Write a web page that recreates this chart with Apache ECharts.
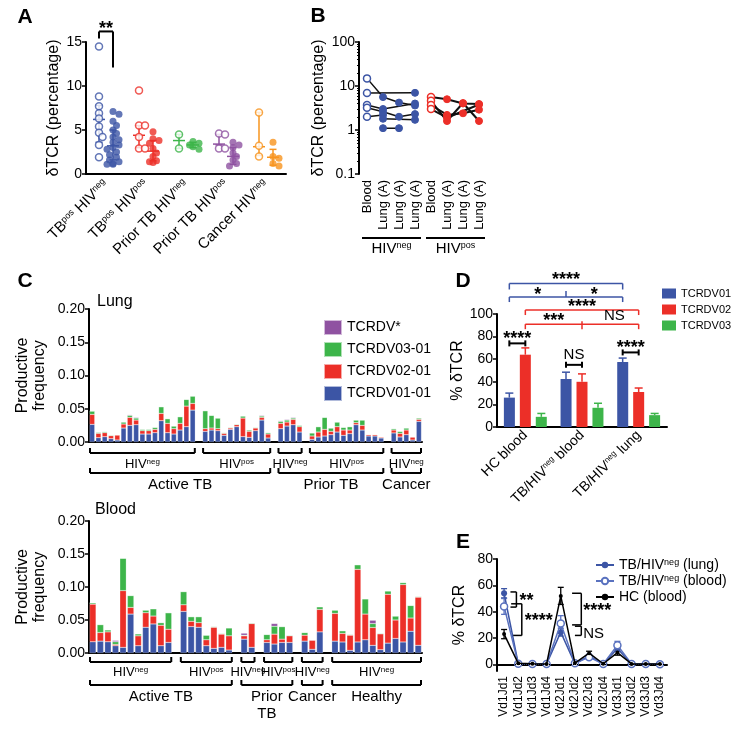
<!DOCTYPE html>
<html><head><meta charset="utf-8">
<script src="https://cdn.jsdelivr.net/npm/echarts@6/dist/echarts.min.js"></script>
<style>html,body{margin:0;padding:0;background:#fff}#c{width:744px;height:737px}</style>
</head><body><div id="c"></div>
<script>
const FONT = '"Liberation Sans", Arial, Helvetica, sans-serif';
const BLUE = '#3c55a5', RED = '#ec2f28', GREEN = '#3db54a', PURPLE = '#8f52a1', ORANGE = '#f7941e';

// ---------- Panel A ----------
const aCategories = ['TB{s|pos} HIV{s|neg}', 'TB{s|pos} HIV{s|pos}', 'Prior TB HIV{s|neg}', 'Prior TB HIV{s|pos}', 'Cancer HIV{s|neg}'];
const aColors = [BLUE, RED, GREEN, PURPLE, ORANGE];
const aOpenValues = [
  [14.5, 8.8, 7.7, 6.9, 6.3, 5.4, 4.7, 4.2, 3.3, 1.9],
  [9.5, 5.5, 5.5, 4.2, 2.9, 2.9],
  [4.5, 2.9],
  [4.6, 4.5, 2.9, 2.9],
  [7.0, 3.2, 2.0]
];
const aFilledValues = [
  [7.1, 6.8, 6.0, 5.5, 5.0, 4.6, 4.2, 3.9, 3.6, 3.3, 3.0, 2.8, 2.5, 2.2, 1.9, 1.6, 1.4, 1.2, 1.1, 1.1],
  [4.8, 4.0, 3.8, 3.5, 2.9, 2.4, 2.0, 1.5, 1.4, 1.3],
  [3.7, 3.5, 3.3, 3.1, 2.8],
  [3.6, 3.3, 3.0, 2.4, 2.0, 1.6, 1.2, 0.9],
  [3.6, 2.0, 1.8, 1.2, 0.9]
];
const aOpenStats = [[3.6, 6.2, 7.8], [3.0, 4.4, 5.5], [2.9, 3.8, 4.5], [3.3, 3.4, 4.5], [2.1, 3.1, 7.0]];
const aFilledStats = [[1.6, 3.2, 5.0], [1.5, 2.6, 3.8], [3.0, 3.3, 3.6], [1.1, 2.0, 3.0], [1.0, 1.9, 2.8]];

// ---------- Panel B ----------
const bCategories = ['Blood', 'Lung (A)', 'Lung (A)', 'Lung (A)', 'Blood', 'Lung (A)', 'Lung (A)', 'Lung (A)'];
const bNegPatients = [
  [14.9, 5.6, 4.2, 3.6],
  [6.9, null, null, 7.0],
  [3.7, 3.0, null, 4.0],
  [3.2, 2.6, 2.0, 2.3],
  [2.0, 2.2, null, null],
  [null, 1.8, null, 1.7],
  [null, 1.1, 1.1, null]
];
const bPosPatients = [
  [5.6, 5.0, 4.0, 3.9],
  [4.6, 1.6, 4.1, 1.6],
  [3.7, 2.2, 2.4, 2.9],
  [3.0, 1.9, null, 3.8]
];
const bGroupLabels = ['HIV{s|neg}', 'HIV{s|pos}'];

// ---------- Panel C ----------
const cSeriesNames = ['TCRDV01-01', 'TCRDV02-01', 'TCRDV03-01', 'TCRDV*'];
const lungSubSizes = [17, 11, 4, 12, 5];
const lungSubLabels = ['HIV{s|neg}', 'HIV{s|pos}', 'HIV{s|neg}', 'HIV{s|pos}', 'HIV{s|neg}'];
const lungTopLabels = ['Active TB', 'Prior TB', 'Cancer'];
const lungTopSpans = [[0, 1], [2, 3], [4, 4]];
const lungBlue = [0.0265,0.0065,0.008,0.005,0.003,0.021,0.025,0.026,0.012,0.012,0.014,0.032,0.014,0.012,0.018,0.023,0.048,
  0.016,0.018,0.017,0.010,0.019,0.023,0.008,0.007,0.017,0.033,0.006,
  0.020,0.024,0.026,0.015,
  0.004,0.0075,0.009,0.011,0.015,0.010,0.0126,0.026,0.018,0.009,0.009,0.006,
  0.0136,0.0076,0.011,0.003,0.031];
const lungRed = [0.015,0.0065,0.006,0.0045,0.0075,0.006,0.012,0.007,0.005,0.005,0.005,0.011,0.014,0.008,0.010,0.031,0.010,
  0.004,0.003,0.003,0.003,0.002,0.003,0.028,0.009,0.004,0.004,0.006,
  0.008,0.006,0.008,0.008,
  0.005,0.0075,0.010,0.005,0.008,0.008,0.0054,0.003,0.007,0.002,0.002,0.0016,
  0.0044,0.0054,0.007,0.0046,0.003];
const lungGreen = [0.005,0.0015,0.0015,0.001,0.0005,0.003,0.003,0.003,0.002,0.002,0.003,0.010,0.007,0.004,0.010,0.010,0.011,
  0.027,0.019,0.016,0.001,0.001,0.001,0.003,0.002,0.001,0.002,0.002,
  0.003,0.003,0.002,0.002,
  0.0046,0.008,0.018,0.005,0.007,0.004,0.005,0.004,0.008,0.0006,0.0006,0,
  0.002,0.003,0.003,0,0.002];
const lungPurple = [0,0,0,0,0,0,0.001,0.001,0,0,0,0,0,0,0,0,0,
  0,0,0,0,0,0,0,0,0,0.001,0,
  0.001,0.001,0.001,0,
  0,0,0,0,0,0,0,0,0,0,0,0,
  0,0,0,0,0];

const bloodSubSizes = [11, 7, 2, 4, 3, 12];
const bloodSubLabels = ['HIV{s|neg}', 'HIV{s|pos}', 'HIV{s|neg}', 'HIV{s|pos}', 'HIV{s|neg}', 'HIV{s|neg}'];
const bloodTopLabels = ['Active TB', 'Prior\nTB', 'Cancer', 'Healthy'];
const bloodTopSpans = [[0, 1], [2, 3], [4, 4], [5, 5]];
const bloodBlue = [0.017,0.018,0.017,0.011,0.0085,0.059,0.011,0.039,0.044,0.011,0.016,
  0.063,0.040,0.039,0.011,0.007,0.0086,0.0045,
  0.021,0.0086,
  0.016,0.0136,0.016,0.016,
  0.018,0.0056,0.032,
  0.018,0.0167,0.004,0.0167,0.020,0.0116,0.005,0.015,0.022,0.0167,0.033,0.0116];
const bloodRed = [0.057,0.013,0.015,0.002,0.086,0.010,0.015,0.022,0.012,0.031,0.020,
  0.010,0.008,0.007,0.009,0.032,0.020,0.0215,
  0.005,0.036,
  0.004,0.015,0.005,0.010,
  0.009,0.014,0.034,
  0.042,0.013,0.023,0.110,0.039,0.027,0.024,0.074,0.028,0.087,0.020,0.073];
const bloodGreen = [0.002,0.012,0.003,0.004,0.049,0.018,0.003,0.004,0.011,0.004,0.025,
  0.020,0.007,0.009,0.007,0.001,0.001,0.012,
  0.001,0.001,
  0.008,0.012,0.019,0.001,
  0.004,0,0.004,
  0.005,0.004,0.001,0.007,0.023,0.006,0.001,0.005,0.006,0.003,0.019,0.001];
const bloodPurple = [0,0,0,0.002,0,0,0,0,0,0,0,
  0,0,0,0,0,0,0,
  0.003,0,
  0,0.004,0,0,
  0,0,0,
  0,0,0,0,0,0.005,0,0,0,0,0,0];

// ---------- Panel D ----------
const dCategories = ['HC blood', 'TB/HIV{s|neg} blood', 'TB/HIV{s|neg} lung'];
const dNames = ['TCRDV01', 'TCRDV02', 'TCRDV03'];
const dV01 = [26, 42.5, 57.5];
const dV02 = [64, 40, 31];
const dV03 = [9, 17, 10.5];
const dErr01 = [4, 6, 3.5];
const dErr02 = [6, 7, 3.5];
const dErr03 = [3, 4, 1.5];

// ---------- Panel E ----------
const eCategories = ['Vd1Jd1','Vd1Jd2','Vd1Jd3','Vd1Jd4','Vd2Jd1','Vd2Jd2','Vd2Jd3','Vd2Jd4','Vd3Jd1','Vd3Jd2','Vd3Jd3','Vd3Jd4'];
const eNames = ['TB/HIVneg (lung)', 'TB/HIVneg (blood)', 'HC (blood)'];
const eLung = [54, 0.5, 0.5, 0.3, 24.5, 0.5, 6.5, 0.3, 12, 0.3, 0.3, 0.2];
const eLungErr = [3.5, 0.2, 0.2, 0.1, 3, 0.2, 1, 0.1, 2, 0.1, 0.1, 0.1];
const eBlood = [44, 0.5, 0.4, 0.3, 31, 0.8, 5.5, 0.3, 14.5, 0.4, 0.3, 0.2];
const eBloodErr = [6, 0.3, 0.2, 0.1, 6, 0.3, 1, 0.1, 3, 0.1, 0.1, 0.1];
const eHC = [23, 0.8, 0.5, 0.3, 52, 1, 8.5, 0.5, 9, 0.4, 0.3, 0.3];
const eHCErr = [3.5, 0.3, 0.2, 0.1, 6.5, 0.3, 1.5, 0.1, 2, 0.1, 0.1, 0.1];

// ================= build =================
const chart = echarts.init(document.getElementById('c'));
const supRich = (fs) => ({ s: { fontSize: fs, verticalAlign: 'top', fontFamily: FONT, color: '#000' } });
const axLine = { lineStyle: { color: '#000', width: 2 } };
const axTick = { length: 4, lineStyle: { color: '#000', width: 1.5 } };
const yLab = { color: '#000', fontSize: 14, fontFamily: FONT, margin: 4 };

// A: beeswarm offsets (pixel layout helper)
const A_PX_PER_UNIT = 132 / 15, A_SIDE = 7;
function swarm(values) {
  const placed = [];
  return values.map(v => {
    const py = v * A_PX_PER_UNIT;
    let chosen = 0;
    for (const dx of [0, 3.5, -3.5, 6, -6]) {
      if (placed.every(p => Math.hypot(p.dx - dx, p.py - py) >= 4.5)) { chosen = dx; break; }
    }
    placed.push({ dx: chosen, py });
    return chosen;
  });
}
const aOpenData = [], aFilledData = [], aStatData = [];
aOpenValues.forEach((vals, g) => {
  const offs = swarm(vals);
  vals.forEach((v, i) => aOpenData.push({ value: [g, v], symbolOffset: [-A_SIDE + offs[i], 0],
    itemStyle: { color: '#fff', borderColor: aColors[g], borderWidth: 1.5 } }));
  aStatData.push([g, ...aOpenStats[g], -1]);
});
aFilledValues.forEach((vals, g) => {
  const offs = swarm(vals);
  vals.forEach((v, i) => aFilledData.push({ value: [g, v], symbolOffset: [A_SIDE + offs[i], 0],
    itemStyle: { color: aColors[g] } }));
  aStatData.push([g, ...aFilledStats[g], 1]);
});

// C: slots with gaps
function buildSlots(sizes, arr) {
  const out = [], starts = [];
  let k = 0;
  sizes.forEach((n, gi) => {
    starts.push(out.length);
    for (let i = 0; i < n; i++) out.push(arr[k++]);
    if (gi < sizes.length - 1) out.push(null);
  });
  return { out, starts };
}
const lungSlots = buildSlots(lungSubSizes, lungBlue);
const bloodSlots = buildSlots(bloodSubSizes, bloodBlue);
const lungCats = lungSlots.out.map((_, i) => 'l' + i);
const bloodCats = bloodSlots.out.map((_, i) => 'b' + i);
const cColors = [BLUE, RED, GREEN, PURPLE];
const lungArrays = [lungBlue, lungRed, lungGreen, lungPurple];
const bloodArrays = [bloodBlue, bloodRed, bloodGreen, bloodPurple];

const series = [];
// A
series.push({ type: 'custom', xAxisIndex: 0, yAxisIndex: 0, data: aStatData, encode: { x: 0, y: 2 }, z: 1,
  renderItem: (p, api) => {
    const g = api.value(0), side = api.value(4);
    const c = aColors[g];
    const x = api.coord([g, api.value(2)])[0] + side * A_SIDE;
    const yl = api.coord([g, api.value(1)])[1], ym = api.coord([g, api.value(2)])[1], yh = api.coord([g, api.value(3)])[1];
    const st = { stroke: c, lineWidth: 1.5 };
    return { type: 'group', children: [
      { type: 'line', shape: { x1: x, y1: yl, x2: x, y2: yh }, style: st },
      { type: 'line', shape: { x1: x - 3.5, y1: yl, x2: x + 3.5, y2: yl }, style: st },
      { type: 'line', shape: { x1: x - 3.5, y1: yh, x2: x + 3.5, y2: yh }, style: st },
      { type: 'line', shape: { x1: x - 6, y1: ym, x2: x + 6, y2: ym }, style: st }
    ] };
  } });
series.push({ type: 'scatter', xAxisIndex: 0, yAxisIndex: 0, symbol: 'circle', symbolSize: 7, data: aOpenData, z: 3 });
series.push({ type: 'scatter', xAxisIndex: 0, yAxisIndex: 0, symbol: 'circle', symbolSize: 7, data: aFilledData, z: 3 });

// B
function bSeries(patients, base, color, width) {
  patients.forEach(pt => {
    const data = [];
    pt.forEach((v, i) => { if (v !== null) data.push({ value: [base + i, v],
      itemStyle: i === 0 ? { color: '#fff', borderColor: color, borderWidth: 1.5 } : { color: color, borderColor: color } }); });
    series.push({ type: 'line', xAxisIndex: 1, yAxisIndex: 1, data, symbol: 'circle', symbolSize: 7,
      lineStyle: { color: '#111', width }, showSymbol: true, z: 3 });
  });
}
bSeries(bNegPatients, 0, BLUE, 1.5);
bSeries(bPosPatients, 4, RED, 2);

// C
cSeriesNames.forEach((name, k) => {
  series.push({ type: 'bar', name, xAxisIndex: 2, yAxisIndex: 2, stack: 'lung', barCategoryGap: '18%',
    itemStyle: { color: cColors[k], borderColor: 'rgba(255,255,255,0.6)', borderWidth: 0.4 },
    data: buildSlots(lungSubSizes, lungArrays[k]).out });
  series.push({ type: 'bar', name, xAxisIndex: 3, yAxisIndex: 3, stack: 'blood', barCategoryGap: '15%',
    itemStyle: { color: cColors[k], borderColor: 'rgba(255,255,255,0.6)', borderWidth: 0.4 },
    data: buildSlots(bloodSubSizes, bloodArrays[k]).out });
});

// D
const D_BAR_W = 11, D_OFF = [-16, 0, 16];
const dVals = [dV01, dV02, dV03], dErrs = [dErr01, dErr02, dErr03], dColors = [BLUE, RED, GREEN];
dNames.forEach((name, k) => {
  series.push({ type: 'bar', name, xAxisIndex: 4, yAxisIndex: 4, barWidth: D_BAR_W, barGap: '45%',
    itemStyle: { color: dColors[k] }, data: dVals[k] });
});
const dErrData = [];
dVals.forEach((arr, k) => arr.forEach((v, c) => dErrData.push([c, v, dErrs[k][c], k])));
series.push({ type: 'custom', xAxisIndex: 4, yAxisIndex: 4, data: dErrData, encode: { x: 0, y: 1 }, z: 1,
  renderItem: (p, api) => {
    const c = api.value(0), v = api.value(1), e = api.value(2), k = api.value(3);
    const x = api.coord([c, v])[0] + D_OFF[k];
    const y0 = api.coord([c, v])[1], y1 = api.coord([c, v + e])[1];
    const st = { stroke: dColors[k], lineWidth: 1.5 };
    return { type: 'group', children: [
      { type: 'line', shape: { x1: x, y1: y0, x2: x, y2: y1 }, style: st },
      { type: 'line', shape: { x1: x - 4, y1: y1, x2: x + 4, y2: y1 }, style: st }
    ] };
  } });

// E
const eVals = [eLung, eBlood, eHC], eErrs = [eLungErr, eBloodErr, eHCErr];
const eColors = [BLUE, '#5a72bf', '#000'];
const eErrData = [];
eVals.forEach((arr, k) => arr.forEach((v, c) => eErrData.push([c, v, eErrs[k][c], k])));
series.push({ type: 'custom', xAxisIndex: 5, yAxisIndex: 5, data: eErrData, encode: { x: 0, y: 1 }, z: 1,
  renderItem: (p, api) => {
    const c = api.value(0), v = api.value(1), e = api.value(2), k = api.value(3);
    const x = api.coord([c, v])[0];
    const y0 = api.coord([c, v - e])[1], y1 = api.coord([c, v + e])[1];
    const st = { stroke: eColors[k], lineWidth: 1.3 };
    return { type: 'group', children: [
      { type: 'line', shape: { x1: x, y1: y0, x2: x, y2: y1 }, style: st },
      { type: 'line', shape: { x1: x - 3, y1: y1, x2: x + 3, y2: y1 }, style: st },
      { type: 'line', shape: { x1: x - 3, y1: y0, x2: x + 3, y2: y0 }, style: st }
    ] };
  } });
series.push({ type: 'line', name: eNames[0], xAxisIndex: 5, yAxisIndex: 5, data: eLung, symbol: 'circle', symbolSize: 6,
  itemStyle: { color: BLUE }, lineStyle: { color: BLUE, width: 1.5 }, z: 3,
  markLine: { silent: true, symbol: 'none', label: { show: false }, lineStyle: { type: 'dotted', color: '#000', width: 1 }, data: [{ yAxis: 0 }] } });
series.push({ type: 'line', name: eNames[1], xAxisIndex: 5, yAxisIndex: 5, data: eBlood, symbol: 'circle', symbolSize: 7,
  itemStyle: { color: '#fff', borderColor: eColors[1], borderWidth: 1.5 }, lineStyle: { color: eColors[1], width: 1.5 }, z: 4 });
series.push({ type: 'line', name: eNames[2], xAxisIndex: 5, yAxisIndex: 5, data: eHC, symbol: 'circle', symbolSize: 4,
  itemStyle: { color: '#000' }, lineStyle: { color: '#000', width: 1.5 }, z: 5 });

const option = {
  animation: false,
  textStyle: { fontFamily: FONT, color: '#000' },
  grid: [
    { left: 86, top: 42, width: 200, height: 132 },
    { left: 359, top: 42, width: 128, height: 132 },
    { left: 89, top: 309, width: 333, height: 133 },
    { left: 89, top: 521, width: 333, height: 132 },
    { left: 497, top: 314, width: 170, height: 113 },
    { left: 497, top: 559, width: 170, height: 112 }
  ],
  legend: [
    { data: ['TCRDV*', 'TCRDV03-01', 'TCRDV02-01', 'TCRDV01-01'], orient: 'vertical', left: 318, top: 314,
      itemWidth: 18, itemHeight: 15, itemGap: 5, icon: 'rect', selectedMode: false,
      textStyle: { fontSize: 14, fontFamily: FONT, color: '#000' } },
    { data: dNames, orient: 'vertical', left: 657, top: 283, itemWidth: 14, itemHeight: 10, itemGap: 5, icon: 'rect',
      selectedMode: false, textStyle: { fontSize: 11, fontFamily: FONT, color: '#000' } },
    { data: eNames, orient: 'vertical', left: 590, top: 553, itemWidth: 18, itemHeight: 8, itemGap: 2, selectedMode: false,
      formatter: n => n.replace('HIVneg', 'HIV{s|neg}'),
      textStyle: { fontSize: 14, fontFamily: FONT, color: '#000', rich: supRich(9) } }
  ],
  xAxis: [
    { gridIndex: 0, type: 'category', data: aCategories, axisLine: axLine, axisTick: { show: false },
      axisLabel: { interval: 0, rotate: 45, fontSize: 15, fontFamily: FONT, color: '#000', margin: 8, rich: supRich(9) } },
    { gridIndex: 1, type: 'category', data: bCategories, axisLine: { show: false }, axisTick: { show: false },
      axisLabel: { interval: 0, rotate: 90, fontSize: 13, fontFamily: FONT, color: '#000', margin: 6 } },
    { gridIndex: 2, type: 'category', data: lungCats, axisLine: axLine, axisTick: { show: false }, axisLabel: { show: false } },
    { gridIndex: 3, type: 'category', data: bloodCats, axisLine: axLine, axisTick: { show: false }, axisLabel: { show: false } },
    { gridIndex: 4, type: 'category', data: dCategories, axisLine: axLine, axisTick: { alignWithLabel: true, length: 4, lineStyle: { width: 1.5, color: '#000' } },
      axisLabel: { interval: 0, rotate: 45, fontSize: 14, fontFamily: FONT, color: '#000', margin: 6, rich: supRich(8) } },
    { gridIndex: 5, type: 'category', data: eCategories, axisLine: axLine, axisTick: { alignWithLabel: true, length: 3, lineStyle: { width: 1.5, color: '#000' } },
      axisLabel: { interval: 0, rotate: 90, fontSize: 12, fontFamily: FONT, color: '#000', margin: 5 } }
  ],
  yAxis: [
    { gridIndex: 0, type: 'value', min: 0, max: 15, interval: 5, axisLine: { show: true, ...axLine }, axisTick: { show: true, ...axTick },
      splitLine: { show: false }, axisLabel: yLab, name: 'δTCR (percentage)', nameLocation: 'middle', nameGap: 24,
      nameTextStyle: { fontSize: 16, fontFamily: FONT, color: '#000' } },
    { gridIndex: 1, type: 'log', logBase: 10, min: 0.1, max: 100, axisLine: { show: true, ...axLine }, axisTick: { show: true, ...axTick },
      minorTick: { show: true, splitNumber: 9, length: 2, lineStyle: { color: '#000', width: 1 } },
      splitLine: { show: false }, axisLabel: { ...yLab, formatter: v => String(+(+v).toPrecision(3)) },
      name: 'δTCR (percentage)', nameLocation: 'middle', nameGap: 32, nameTextStyle: { fontSize: 16, fontFamily: FONT, color: '#000' } },
    { gridIndex: 2, type: 'value', min: 0, max: 0.2, interval: 0.05, axisLine: { show: true, ...axLine }, axisTick: { show: true, ...axTick },
      splitLine: { show: false }, axisLabel: { ...yLab, formatter: v => v.toFixed(2) },
      name: 'Productive\nfrequency', nameLocation: 'middle', nameGap: 41, nameTextStyle: { fontSize: 16, lineHeight: 17, fontFamily: FONT, color: '#000' } },
    { gridIndex: 3, type: 'value', min: 0, max: 0.2, interval: 0.05, axisLine: { show: true, ...axLine }, axisTick: { show: true, ...axTick },
      splitLine: { show: false }, axisLabel: { ...yLab, formatter: v => v.toFixed(2) },
      name: 'Productive\nfrequency', nameLocation: 'middle', nameGap: 41, nameTextStyle: { fontSize: 16, lineHeight: 17, fontFamily: FONT, color: '#000' } },
    { gridIndex: 4, type: 'value', min: 0, max: 100, interval: 20, axisLine: { show: true, ...axLine }, axisTick: { show: true, ...axTick },
      splitLine: { show: false }, axisLabel: yLab, name: '% δTCR', nameLocation: 'middle', nameGap: 29,
      nameTextStyle: { fontSize: 16, fontFamily: FONT, color: '#000' } },
    { gridIndex: 5, type: 'value', min: -5, max: 80, axisLine: { show: true, ...axLine },
      axisTick: { show: true, ...axTick, customValues: [0, 20, 40, 60, 80] },
      splitLine: { show: false }, axisLabel: { ...yLab, customValues: [0, 20, 40, 60, 80] }, name: '% δTCR', nameLocation: 'middle', nameGap: 29,
      nameTextStyle: { fontSize: 16, fontFamily: FONT, color: '#000' } }
  ],
  series
};
chart.setOption(option);

// ================= annotations =================
const X = (ax, i) => chart.convertToPixel({ xAxisIndex: ax }, i);
const Y = (ax, v) => chart.convertToPixel({ yAxisIndex: ax }, v);
const g = [];
const L = (x1, y1, x2, y2, color = '#000', w = 2) => g.push({ type: 'line', silent: true, shape: { x1, y1, x2, y2 }, style: { stroke: color, lineWidth: w } });
const T = (x, y, text, size, extra = {}) => g.push({ type: 'text', silent: true, x, y, style: Object.assign({
  text, fill: '#000', fontSize: size, fontFamily: FONT, align: 'center', verticalAlign: 'middle',
  textAlign: 'center', textVerticalAlign: 'middle', rich: { s: { fontSize: Math.round(size * 0.62), verticalAlign: 'top', fontFamily: FONT, fill: '#000' } } }, extra) });
const STAR = 18;

// panel letters & titles
T(25, 17, 'A', 21, { fontWeight: 'bold' });
T(318, 16, 'B', 21, { fontWeight: 'bold' });
T(25, 281, 'C', 21, { fontWeight: 'bold' });
T(463, 281, 'D', 21, { fontWeight: 'bold' });
T(463, 542, 'E', 21, { fontWeight: 'bold' });
T(97, 302, 'Lung', 16, { align: 'left', textAlign: 'left' });
T(95, 510, 'Blood', 16, { align: 'left', textAlign: 'left' });

// A: ** bracket
{
  const x1 = X(0, 0) - A_SIDE, x2 = X(0, 0) + A_SIDE;
  const yt = Y(0, 16.2);
  L(x1, Y(0, 15.4), x1, yt); L(x1, yt, x2, yt); L(x2, yt, x2, Y(0, 12.1));
  T((x1 + x2) / 2, yt - 2, '**', STAR, { fontWeight: 'bold' });
}

// B: group brackets
{
  const half = (X(1, 1) - X(1, 0)) / 2;
  const by = Y(1, 0.1) + 64;
  [[0, 3], [4, 7]].forEach((r, i) => {
    const x1 = X(1, r[0]) - half + 3, x2 = X(1, r[1]) + half - 2;
    L(x1, by, x2, by);
    T((x1 + x2) / 2, by + 11, bGroupLabels[i], 15);
  });
}

// C: brackets
function cBrackets(ax, sizes, starts, subLabels, topLabels, topSpans, yAx, o) {
  const w = X(ax, 1) - X(ax, 0);
  const base = Y(yAx, 0);
  const edges = sizes.map((n, i) => [X(ax, starts[i]) - w / 2 + 1, X(ax, starts[i] + n - 1) + w / 2 - 1]);
  edges.forEach((e, i) => {
    const y = base + o.sub;
    L(e[0], y, e[1], y); L(e[0], y - 5, e[0], y); L(e[1], y - 5, e[1], y);
    T((e[0] + e[1]) / 2, base + o.subLab, subLabels[i], 13);
  });
  topSpans.forEach((s, i) => {
    const x1 = edges[s[0]][0], x2 = edges[s[1]][1], y = base + o.top;
    L(x1, y, x2, y); L(x1, y - 5, x1, y); L(x2, y - 5, x2, y);
    T((x1 + x2) / 2, base + o.topLab, topLabels[i], 15, { verticalAlign: 'top', textVerticalAlign: 'top', lineHeight: 17 });
  });
}
cBrackets(2, lungSubSizes, lungSlots.starts, lungSubLabels, lungTopLabels, lungTopSpans, 2, { sub: 11, subLab: 22, top: 31, topLab: 34 });
cBrackets(3, bloodSubSizes, bloodSlots.starts, bloodSubLabels, bloodTopLabels, bloodTopSpans, 3, { sub: 9, subLab: 19, top: 32, topLab: 35 });

// D: significance
{
  const bx = (c, k) => X(4, c) + D_OFF[k];
  const br = (x1, x2, y, color, down) => { L(x1, y, x2, y, color, 1.5); L(x1, y, x1, y + down, color, 1.5); L(x2, y, x2, y + down, color, 1.5); };
  let y = Y(4, 127);
  br(bx(0, 0), bx(2, 0), y, BLUE, 6);
  T(bx(1, 0), y - 3, '****', STAR, { fontWeight: 'bold' });
  y = Y(4, 115);
  br(bx(0, 0), bx(2, 0), y, BLUE, 5);
  L(bx(1, 0), y, bx(1, 0), y - 6, BLUE, 1.5);
  T((bx(0, 0) + bx(1, 0)) / 2, y - 2, '*', STAR, { fontWeight: 'bold' });
  T((bx(1, 0) + bx(2, 0)) / 2, y - 2, '*', STAR, { fontWeight: 'bold' });
  y = Y(4, 103.5);
  br(bx(0, 1), bx(2, 1), y, RED, 5);
  T(bx(1, 1), y - 3, '****', STAR, { fontWeight: 'bold' });
  y = Y(4, 91);
  br(bx(0, 1), bx(2, 1), y, RED, 5);
  L(bx(1, 1), y - 3, bx(1, 1), y + 5, RED, 1.5);
  T((bx(0, 1) + bx(1, 1)) / 2, y - 3, '***', STAR, { fontWeight: 'bold' });
  T((bx(1, 1) + bx(2, 1)) / 2 + 4, y - 8, 'NS', 15);
  const ibeam = (c, val, text, isNS) => {
    const x1 = bx(c, 0), x2 = bx(c, 1), yy = Y(4, val);
    L(x1, yy, x2, yy, '#000', 2); L(x1, yy - 3, x1, yy + 3, '#000', 2); L(x2, yy - 3, x2, yy + 3, '#000', 2);
    if (isNS) T((x1 + x2) / 2, yy - 10, text, 15); else T((x1 + x2) / 2, yy - 4, text, STAR, { fontWeight: 'bold' });
  };
  ibeam(0, 74, '****', false);
  ibeam(1, 55, 'NS', true);
  ibeam(2, 66, '****', false);
}

// E: significance
{
  const dx = X(5, 1) - X(5, 0);
  const ex = (c) => X(5, 0) + c * dx;
  const rb = (xl, xr, v1, v2) => { const y1 = Y(5, v1), y2 = Y(5, v2); L(xl, y1, xr, y1, '#000', 1.5); L(xr, y1, xr, y2, '#000', 1.5); L(xl, y2, xr, y2, '#000', 1.5); };
  rb(ex(0.45), ex(0.87), 55, 43.5);
  T(ex(0.87) + 3, Y(5, 50) + 3, '**', STAR, { align: 'left', textAlign: 'left', fontWeight: 'bold' });
  rb(ex(0.5), ex(1.25), 46, 22);
  T(ex(1.25) + 3, Y(5, 35) + 3, '****', STAR, { align: 'left', textAlign: 'left', fontWeight: 'bold' });
  rb(ex(4.8), ex(5.45), 54, 30);
  T(ex(5.45) + 2, Y(5, 42.5) + 3, '****', STAR, { align: 'left', textAlign: 'left', fontWeight: 'bold' });
  rb(ex(5.0), ex(5.45), 29, 22);
  T(ex(5.45) + 2, Y(5, 23.5), 'NS', 15, { align: 'left', textAlign: 'left' });
}

chart.setOption({ graphic: g });
</script>
</body></html>
